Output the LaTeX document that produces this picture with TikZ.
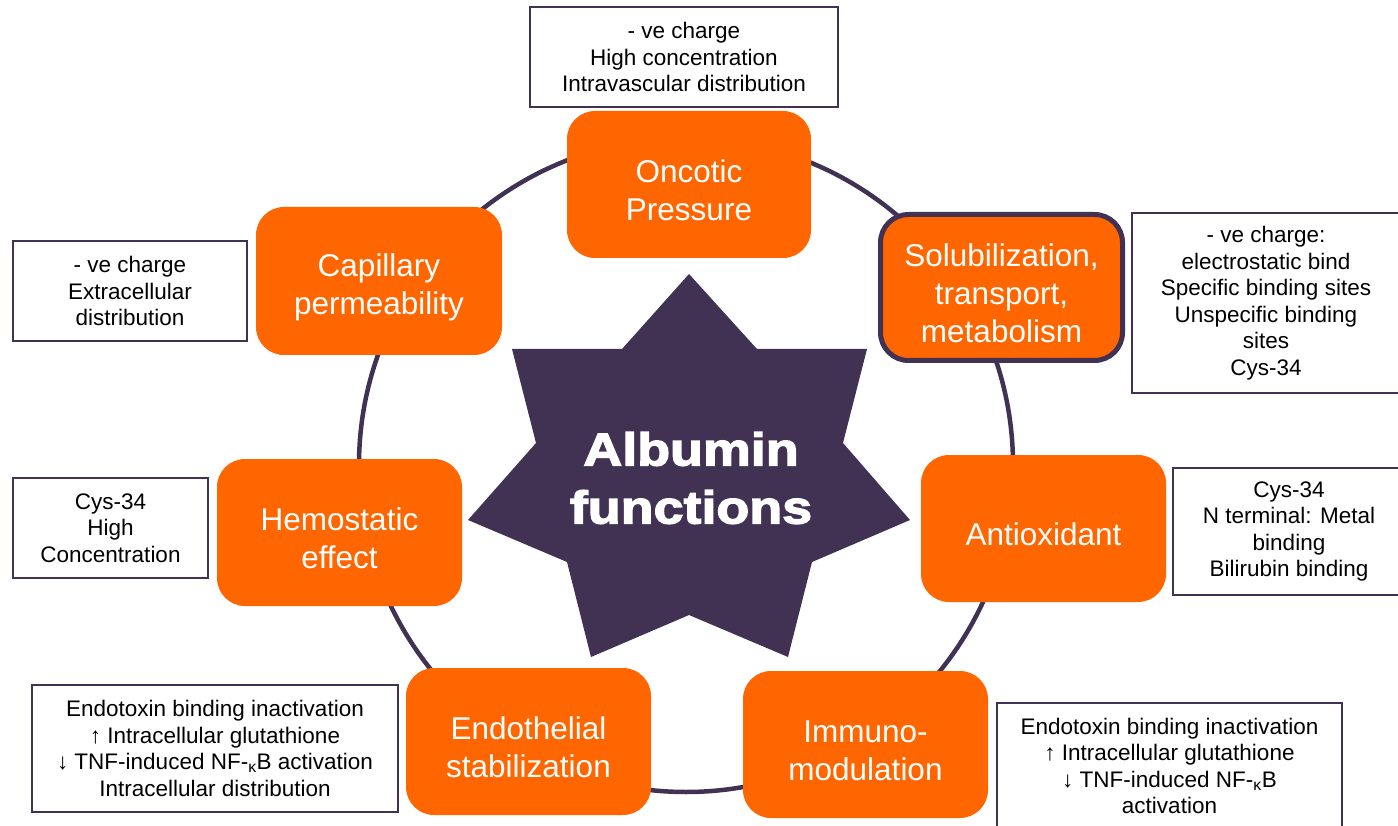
\documentclass[tikz,border=0pt]{standalone}
\usepackage{fontspec}
\setmainfont{Liberation Sans}
\newfontfamily\heavyfont{Liberation Sans Bold}[FakeStretch=1.17,FakeBold=3]

\definecolor{albOrange}{RGB}{255,102,0}
\definecolor{albPurple}{RGB}{65,50,84}

\tikzset{
  func/.style={rounded corners=28pt, fill=albOrange, inner sep=0pt,
    minimum width=245pt, minimum height=147pt,
    label={[flabel]center:#1}},
  flabel/.style={text=white, font=\fontsize{31.5}{38}\selectfont,
    align=center, inner sep=0pt, yshift=-6pt},
  note/.style={draw=albPurple, line width=1.5pt, fill=white, align=center,
    font=\fontsize{22.5}{26.5}\selectfont, inner sep=0pt},
  ring/.style={draw=albPurple, line width=4.5pt}
}

\begin{document}
\begin{tikzpicture}[x=1pt,y=-1pt]
\useasboundingbox (0,0) rectangle (1398,826);
\clip (0,0) rectangle (1398,826);

% ring joining the function boxes
\coordinate (hub) at (686,465);
\draw[ring] (hub) circle[radius=327pt];

% seven-pointed star
\fill[albPurple] (689,274) -- (757,349) -- (867,349) -- (843,443) -- (910,520)
  -- (812,562) -- (788,657) -- (689,615) -- (591,657) -- (567,562)
  -- (468,520) -- (536,443) -- (512,349) -- (622,349) -- cycle;
\node (title) at (691,478) [text=white, align=center,
  font=\heavyfont\fontsize{46}{58}\selectfont] {Albumin\\functions};

% functions
\node[func={Oncotic\\Pressure}, minimum width=244pt] (onc) at (689,184.5) {};
\node[func={Capillary\\permeability}, minimum width=246pt, minimum height=148pt] (cap) at (379,281) {};
\node[func={Solubilization,\\transport,\\metabolism}, draw=albPurple, line width=5pt,
  minimum width=242pt, minimum height=146pt] (sol) at (1001.5,287.5) {};
\node[func={Hemostatic\\effect}] (hem) at (339.5,532.5) {};
\node[func={Antioxidant}] (anti) at (1043.5,528.5) {};
\node[func={Endothelial\\stabilization}] (endo) at (528.5,741.5) {};
\node[func={Immuno-\\modulation}] (imm) at (865.5,744.5) {};

% notes
\node[note, minimum width=308pt, minimum height=100pt] (nonc) at (684,57)
  {- ve charge\\High concentration\\Intravascular distribution};
\node[note, minimum width=234pt, minimum height=100pt] (ncap) at (130,291)
  {- ve charge\\Extracellular\\distribution};
\node[note, minimum width=195pt, minimum height=100pt] (nhem) at (110.5,528)
  {Cys-34\\High\\Concentration};
\node[note, minimum width=268pt, minimum height=180pt] (nsol) at (1266,303)
  {- ve charge:\\electrostatic bind\\Specific binding sites\\Unspecific binding\\sites\\Cys-34};
\node[note, minimum width=232pt, minimum height=127pt] (nanti) at (1289,531.5)
  {Cys-34\\N terminal: Metal\\binding\\Bilirubin binding};
\node[note, minimum width=366pt, minimum height=127pt] (nendo) at (215,748.5)
  {Endotoxin binding inactivation\\↑ Intracellular glutathione\\↓ TNF-induced NF-\textsubscript{κ}B activation\\Intracellular distribution};
\node[note, minimum width=345pt, minimum height=126pt] (nimm) at (1169.5,766)
  {Endotoxin binding inactivation\\↑ Intracellular glutathione\\↓ TNF-induced NF-\textsubscript{κ}B\\activation};
\end{tikzpicture}
\end{document}
